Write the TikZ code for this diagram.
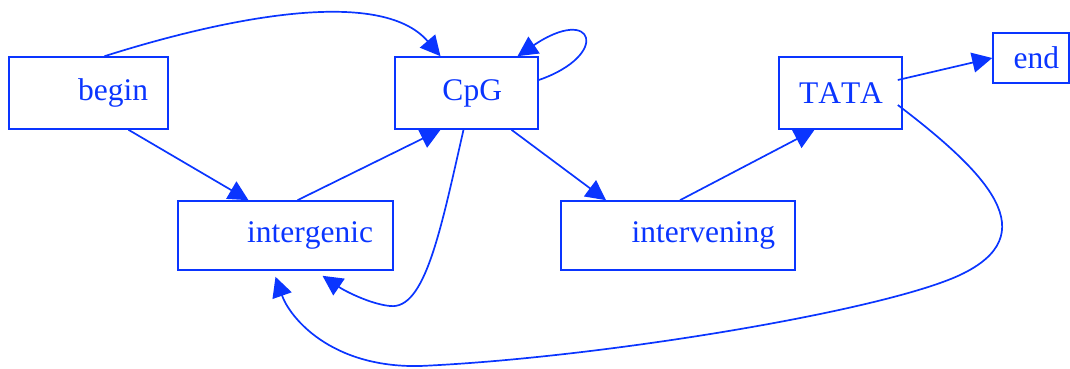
\documentclass[tikz,border=0pt]{standalone}
\usepackage{fontspec}
\setmainfont{Liberation Serif}[Kerning=Off]
\usetikzlibrary{arrows.meta,calc}
\definecolor{gvBlue}{HTML}{0A35FF}
\tikzset{>={Triangle[length=20pt,width=20pt]},
  state/.style={draw=gvBlue,line width=1.6pt,text=gvBlue,font=\fontsize{31.5}{36}\selectfont,
    align=right,inner xsep=20pt,inner ysep=0pt,minimum height=72pt},
  trans/.style={->,gvBlue,line width=1.7pt}}

\begin{document}
\begin{tikzpicture}[x=1pt,y=-1pt]
\useasboundingbox (0,0) rectangle (1070,369);
\node[state,text width=119pt] (begin) at (88.5,93) {begin};
\node[state,text width=71pt,inner xsep=36pt] (CpG) at (466.5,93) {CpG};
\node[state,text width=83pt] (TATA) at (840.5,93) {TATA};
\node[state,text width=56pt,inner xsep=10pt,minimum height=50pt] (end) at (1031,58) {end};
\node[state,text width=175pt,minimum height=69pt] (intergenic) at (285.5,235.5) {intergenic};
\node[state,text width=194pt,minimum height=69pt] (intervening) at (678,235.5) {intervening};
\coordinate (cpgLow) at (390,306);
\coordinate (tataBend) at (960,275);
\coordinate (tataLow) at (420,366);
\draw[trans] ($(begin.north)+(16,0)$) .. controls +(120,-38) and +(-60,-70) .. ($(CpG.north)+(-26,0)$);
\draw[trans] ($(CpG.east)+(0,-13)$) .. controls +(72,-25) and +(77,-52) .. ($(CpG.north)+(51,0)$);
\draw[trans] ($(begin.south)+(40,0)$) -- ($(intergenic.north)+(-37,0)$);
\draw[trans] ($(intergenic.north)+(12,0)$) -- ($(CpG.south)+(-26,0)$);
\draw[trans] ($(CpG.south)+(-3,0)$) .. controls +(-23,101) and +(35,4) .. (cpgLow)
  .. controls +(-20,-2) and +(22,15) .. ($(intergenic.south)+(37,5)$);
\draw[trans] ($(CpG.south)+(45,0)$) -- ($(intervening.north)+(-72,0)$);
\draw[trans] ($(intervening.north)+(2,0)$) -- ($(TATA.south)+(-26,0)$);
\draw[trans] ($(TATA.east)+(-5,-13)$) -- (end.west);
\draw[trans] ($(TATA.east)+(-5,12)$) .. controls +(92,70) and +(85,-40) .. (tataBend)
  .. controls +(-77,36) and +(180,-8) .. (tataLow)
  .. controls +(-90,2) and +(14,40) .. ($(intergenic.south)+(-10,6)$);
\end{tikzpicture}
\end{document}
